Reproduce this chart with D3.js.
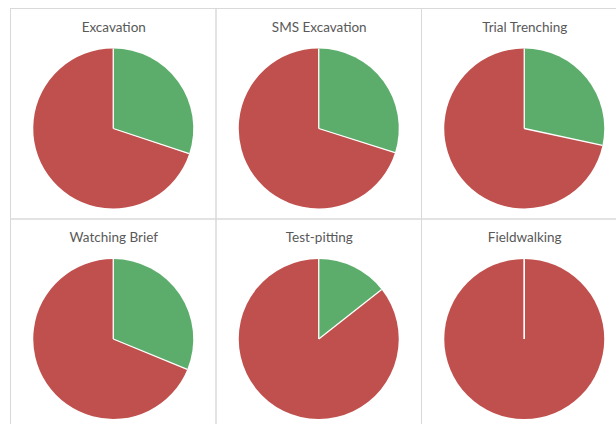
<!DOCTYPE html>
<html>
<head>
<meta charset="utf-8">
<script src="https://cdn.jsdelivr.net/npm/d3@7"></script>
<style>
  html, body { margin: 0; padding: 0; background: #ffffff; }
  svg { display: block; }
</style>
</head>
<body>
<script>
const titles = ["Excavation", "SMS Excavation", "Trial Trenching", "Watching Brief", "Test-pitting", "Fieldwalking"];
const categories = ["Positive", "Negative"];
const positiveShare = [30.1, 29.9, 28.4, 31.2, 14.4, 0];
const negativeShare = [69.9, 70.1, 71.6, 68.8, 85.6, 100];
const colors = ["#5cad6b", "#c0504d"];

const W = 616, H = 424;
const svg = d3.select("body").append("svg").attr("width", W).attr("height", H);

const cols = 3;
const x0 = 10.5, y0 = 8.5, pw = 205.5, ph = 210.5;
const radius = 80;

const color = d3.scaleOrdinal().domain(categories).range(colors);
const pie = d3.pie().sort(null).value(d => d.value);
const arc = d3.arc().innerRadius(0).outerRadius(radius);

titles.forEach((t, i) => {
  const c = i % cols, r = Math.floor(i / cols);
  const px = x0 + c * pw, py = y0 + r * ph;
  const g = svg.append("g").attr("transform", `translate(${px},${py})`);
  g.append("rect").attr("width", pw).attr("height", ph)
    .attr("fill", "none").attr("stroke", "#d9d9d9").attr("stroke-width", 1);
  g.append("text").attr("x", pw / 2 + 0.5).attr("y", 23)
    .attr("text-anchor", "middle")
    .attr("font-family", "Lato, 'Open Sans', sans-serif")
    .attr("font-size", 13.5)
    .attr("fill", "#595959")
    .text(t);
  const data = categories.map((k, j) => ({ key: k, value: j === 0 ? positiveShare[i] : negativeShare[i] }));
  const arcs = pie(data);
  const pg = g.append("g").attr("transform", `translate(${pw / 2},${120})`);
  pg.selectAll("path").data(arcs).join("path")
    .attr("d", arc)
    .attr("fill", d => color(d.data.key));
  // slice separators (white radial lines at each slice boundary)
  pg.selectAll("line.sep").data(arcs).join("line")
    .attr("class", "sep")
    .attr("x1", 0).attr("y1", 0)
    .attr("x2", d => d3.pointRadial(d.startAngle, radius)[0])
    .attr("y2", d => d3.pointRadial(d.startAngle, radius)[1])
    .attr("stroke", "#ffffff")
    .attr("stroke-width", 1.3);
});
</script>
</body>
</html>
